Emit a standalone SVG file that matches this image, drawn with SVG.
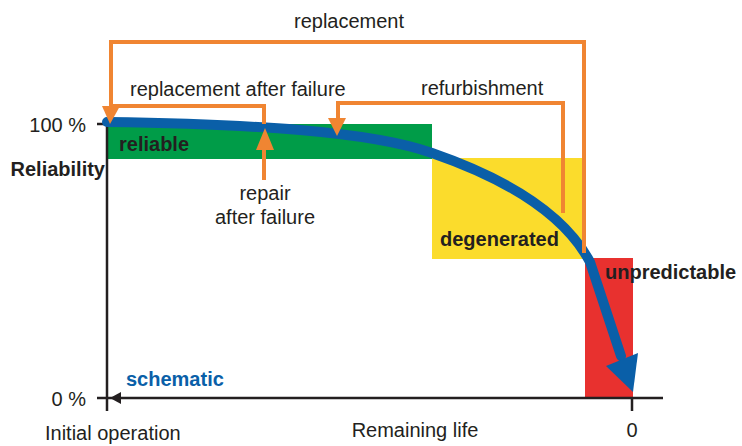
<svg xmlns="http://www.w3.org/2000/svg" width="742" height="446" viewBox="0 0 742 446">
<defs>
<style>
text{font-family:"Liberation Sans",Arial,sans-serif;font-size:20px;fill:#231f20}
.b{font-weight:bold}
.or{fill:none;stroke:#f08532;stroke-width:4;stroke-linejoin:miter}
.oh{fill:#f08532}
.ax{fill:none;stroke:#231f20;stroke-width:2.5}
</style>
</defs>
<g id="zones">
<rect id="zone-reliable" x="107" y="124" width="325" height="35" fill="#009c48"/>
<rect id="zone-degenerated" x="432" y="158" width="152" height="101" fill="#fbdc2c"/>
<rect id="zone-unpredictable" x="585" y="258" width="48" height="140" fill="#e8312f"/>
</g>
<g id="axes">
<path class="ax" d="M107,123 V411 M97,124 H107 M97,398 H663 M632,398 V411"/>
<polygon points="110,398 121,392 121,404" fill="#231f20"/>
</g>
<g id="curve">
<path d="M107,122 C250,124 370,131 432,153 C510,180 565,215 590,262 L621,356" fill="none" stroke="#0a5fa8" stroke-width="10" stroke-linecap="round"/>
<polygon points="606,366 638,353 633,392" fill="#0a5fa8"/>
</g>
<g id="connectors">
<path class="or" d="M584,253 V42 H111 V108"/>
<polygon class="oh" points="102,106 120,106 110,124"/>
<path class="or" d="M264,124 V106 H111"/>
<path class="or" d="M264,180 V148"/>
<polygon class="oh" points="256,150 274,150 265,128"/>
<path class="or" d="M563,213 V103 H338 V120"/>
<polygon class="oh" points="328,118 346,118 337,136"/>
</g>
<g id="labels">
<text x="349" y="28" text-anchor="middle">replacement</text>
<text x="130" y="96">replacement after failure</text>
<text x="421" y="95">refurbishment</text>
<text x="86" y="132" text-anchor="end">100 %</text>
<text x="105" y="176" text-anchor="end" class="b">Reliability</text>
<text x="119" y="151" class="b">reliable</text>
<text x="265" y="200" text-anchor="middle">repair</text>
<text x="265" y="224" text-anchor="middle">after failure</text>
<text x="440" y="246" class="b">degenerated</text>
<text x="605" y="279" class="b">unpredictable</text>
<text x="126" y="386" class="b" style="fill:#0a5fa8">schematic</text>
<text x="86" y="406" text-anchor="end">0 %</text>
<text x="45" y="440">Initial operation</text>
<text x="415" y="437" text-anchor="middle">Remaining life</text>
<text x="632" y="437" text-anchor="middle">0</text>
</g>
</svg>
